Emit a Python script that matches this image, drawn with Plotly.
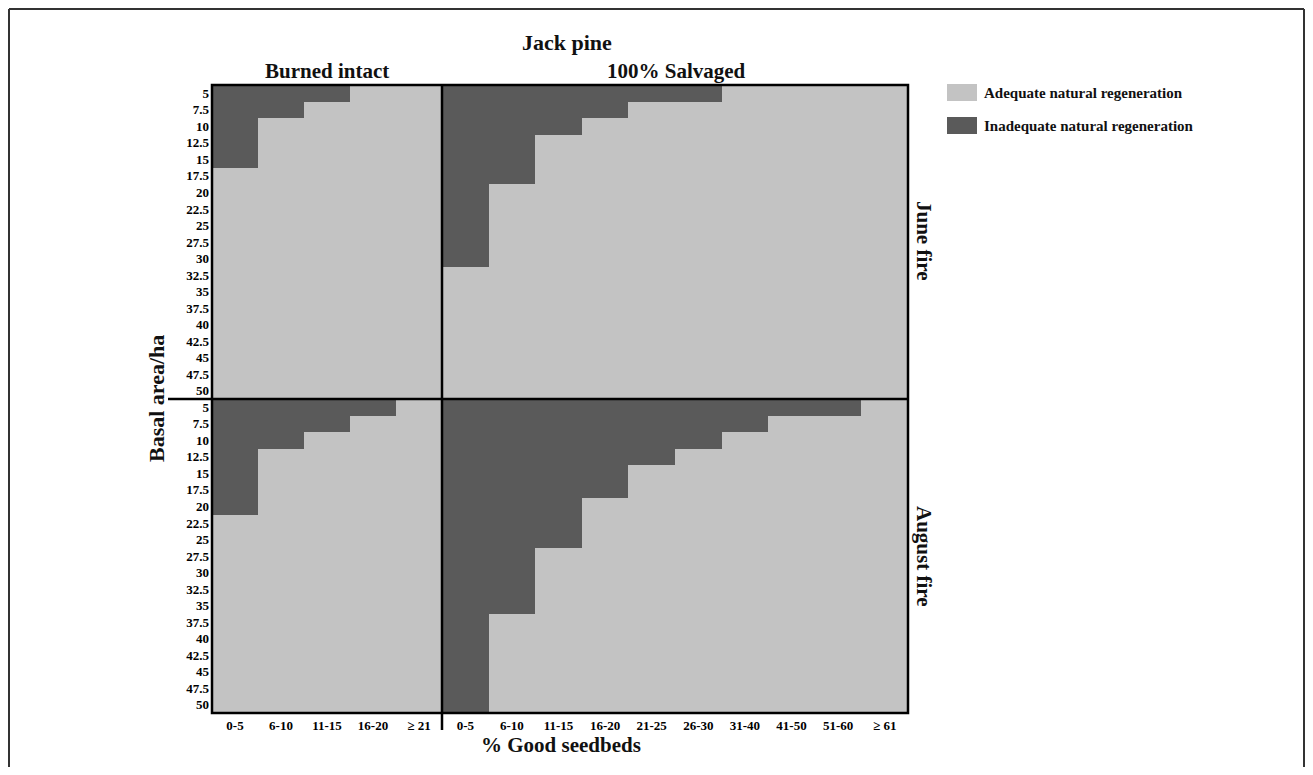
import plotly.graph_objects as go

# page is rendered with an 8px body margin; figure sized to fit inside the window
OFF = 8
W, H = 1313 - 2 * OFF, 775 - 2 * OFF

basal_area = [5, 7.5, 10, 12.5, 15, 17.5, 20, 22.5, 25, 27.5, 30, 32.5, 35, 37.5, 40, 42.5, 45, 47.5, 50]
basal_labels = ["5", "7.5", "10", "12.5", "15", "17.5", "20", "22.5", "25", "27.5", "30",
                "32.5", "35", "37.5", "40", "42.5", "45", "47.5", "50"]
seedbeds_intact = ["0-5", "6-10", "11-15", "16-20", "≥ 21"]
seedbeds_salvaged = ["0-5", "6-10", "11-15", "16-20", "21-25", "26-30", "31-40", "41-50", "51-60", "≥ 61"]

# highest basal area (m2/ha) that is still inadequately regenerated, per seedbed class (0 = none)
intact_june = [15, 7.5, 5, 0, 0]
intact_august = [20, 10, 7.5, 5, 0]
salvaged_june = [30, 17.5, 10, 7.5, 5, 5, 0, 0, 0, 0]
salvaged_august = [50, 35, 25, 17.5, 12.5, 10, 7.5, 5, 5, 0]

LIGHT = "#c3c3c3"
DARK = "#5a5a5a"
FONT = "Liberation Serif"


def px(x):
    return (x - OFF) / W


def py(y):
    return 1 - (y - OFF) / H


def grid(thresholds):
    return [[1 if b <= t else 0 for t in thresholds] for b in basal_area]


# panel pixel boxes (page coordinates)
XL0, XM, XR1 = 212, 442, 908
YT0, YM, YB1 = 85, 399, 713

fig = go.Figure()
panels = [
    ("x", "y", seedbeds_intact, intact_june),
    ("x2", "y2", seedbeds_salvaged, salvaged_june),
    ("x3", "y3", seedbeds_intact, intact_august),
    ("x4", "y4", seedbeds_salvaged, salvaged_august),
]
for xa, ya, cats, thr in panels:
    fig.add_trace(go.Heatmap(
        x=cats, y=basal_labels, z=grid(thr), xaxis=xa, yaxis=ya,
        colorscale=[[0, LIGHT], [1, DARK]], zmin=0, zmax=1, showscale=False,
        hoverinfo="skip"))

tickfont = dict(family=FONT, size=13, color="#000", weight="bold")
ax_common = dict(showgrid=False, zeroline=False, ticks="", showline=False, tickfont=tickfont, type="category")

fig.update_layout(
    width=W, height=H, margin=dict(l=0, r=0, t=0, b=0),
    paper_bgcolor="white", plot_bgcolor="white", showlegend=False,
    xaxis=dict(domain=[px(XL0), px(XM)], showticklabels=False, anchor="y", **ax_common),
    yaxis=dict(domain=[py(YM), py(YT0)], autorange="reversed", anchor="x", ticklabelstandoff=2, **ax_common),
    xaxis2=dict(domain=[px(XM), px(XR1)], showticklabels=False, anchor="y2", **ax_common),
    yaxis2=dict(domain=[py(YM), py(YT0)], autorange="reversed", showticklabels=False, anchor="x2", **ax_common),
    xaxis3=dict(domain=[px(XL0), px(XM)], anchor="y3", ticklabelstandoff=3, **ax_common),
    yaxis3=dict(domain=[py(YB1), py(YM)], autorange="reversed", anchor="x3", ticklabelstandoff=2, **ax_common),
    xaxis4=dict(domain=[px(XM), px(XR1)], anchor="y4", ticklabelstandoff=3, **ax_common),
    yaxis4=dict(domain=[py(YB1), py(YM)], autorange="reversed", showticklabels=False, anchor="x4", **ax_common),
)

shapes = []
line = dict(color="black", width=2.5)
# outer frame of panels
shapes.append(dict(type="rect", xref="paper", yref="paper", x0=px(XL0), x1=px(XR1), y0=py(YB1), y1=py(YT0),
                   line=line, layer="above"))
# dividers
shapes.append(dict(type="line", xref="paper", yref="paper", x0=px(XM), x1=px(XM), y0=py(730), y1=py(YT0),
                   line=line, layer="above"))
shapes.append(dict(type="line", xref="paper", yref="paper", x0=px(168), x1=px(XR1), y0=py(YM), y1=py(YM),
                   line=line, layer="above"))
# figure border (top, left, right)
border = dict(color="#333", width=2)
bx0, bx1, by0, by1 = px(9), px(1304), py(9), 0
shapes.append(dict(type="line", xref="paper", yref="paper", x0=bx0, x1=bx1, y0=by0, y1=by0, line=border))
shapes.append(dict(type="line", xref="paper", yref="paper", x0=bx0, x1=bx0, y0=by0, y1=by1, line=border))
shapes.append(dict(type="line", xref="paper", yref="paper", x0=bx1, x1=bx1, y0=by0, y1=by1, line=border))
# legend boxes
shapes.append(dict(type="rect", xref="paper", yref="paper", x0=px(947), x1=px(977), y0=py(101), y1=py(84),
                   fillcolor=LIGHT, line=dict(width=0)))
shapes.append(dict(type="rect", xref="paper", yref="paper", x0=px(947), x1=px(977), y0=py(134), y1=py(117),
                   fillcolor=DARK, line=dict(width=0)))
fig.update_layout(shapes=shapes)


def ann(text, x, y, size, angle=0, xanchor="center"):
    fig.add_annotation(text=f"<b>{text}</b>", x=px(x), y=py(y), xref="paper", yref="paper",
                       showarrow=False, textangle=angle, xanchor=xanchor, yanchor="middle",
                       font=dict(family=FONT, size=size, color="#111"))


ann("Jack pine", 567, 42, 22)
ann("Burned intact", 327, 71, 21)
ann("100% Salvaged", 676, 71, 21)
ann("Basal area/ha", 156, 399, 22, angle=-90)
ann("% Good seedbeds", 561, 745, 21)
ann("June fire", 924, 241, 21, angle=90)
ann("August fire", 924, 556, 21, angle=90)
ann("Adequate natural regeneration", 982, 93, 15, xanchor="left")
ann("Inadequate natural regeneration", 982, 126, 15, xanchor="left")

fig.write_html("out.html")
